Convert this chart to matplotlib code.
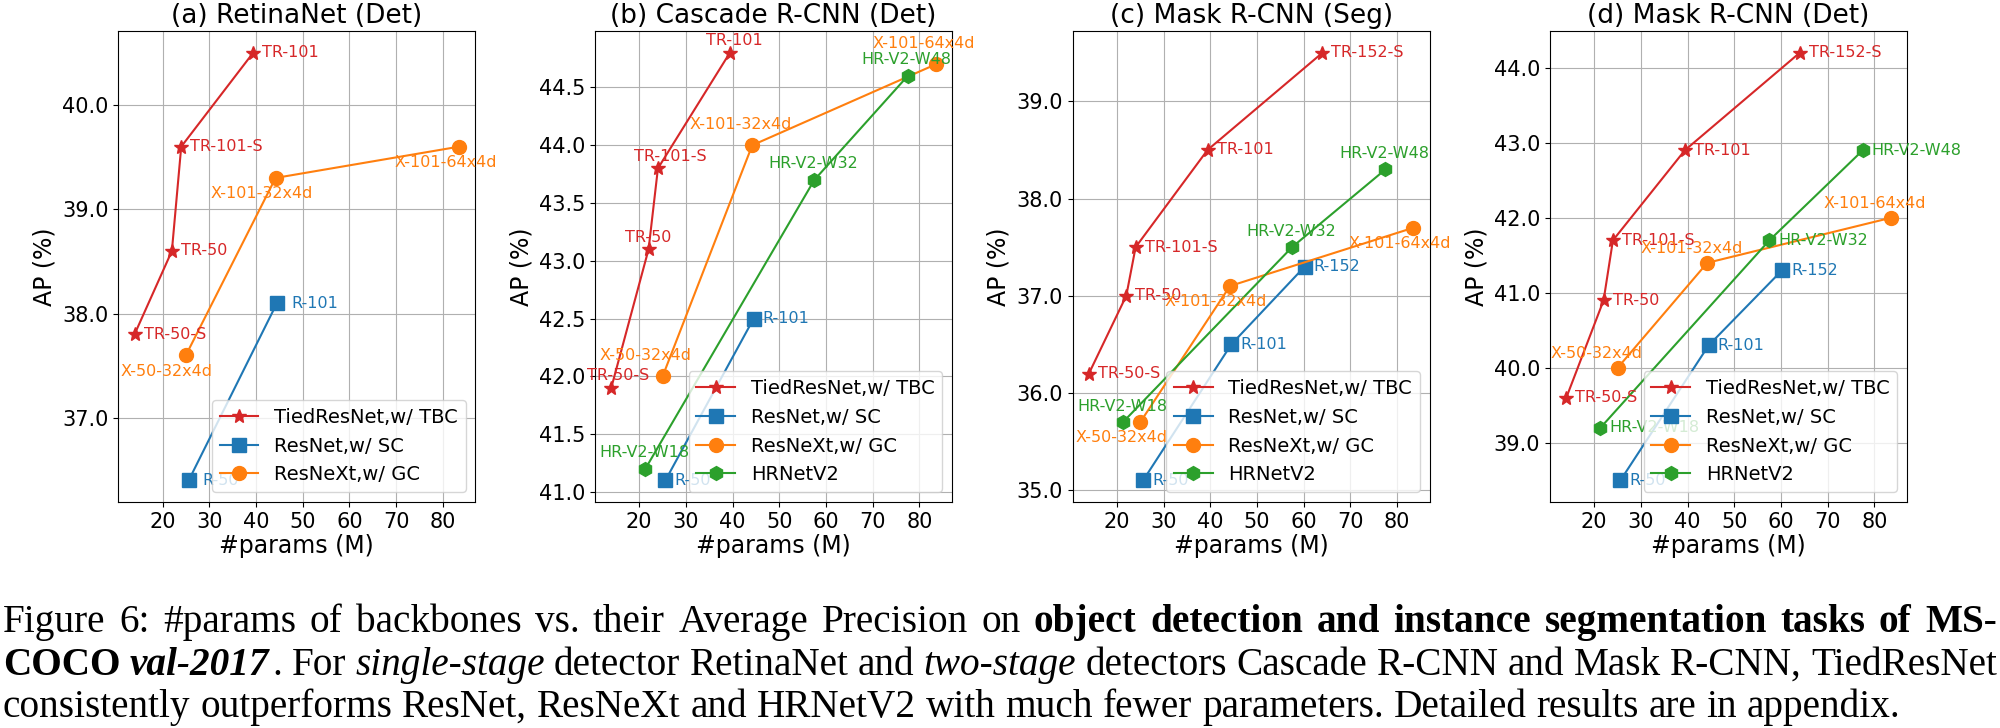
import matplotlib
matplotlib.use("Agg")
import matplotlib.pyplot as plt
from matplotlib.ticker import MultipleLocator, FormatStrFormatter

# ---------------- data ----------------
tr_names = ["TR-50-S", "TR-50", "TR-101-S", "TR-101", "TR-152-S"]
tr_params = [14.0, 22.0, 24.0, 39.4, 64.0]
r_names = ["R-50", "R-101", "R-152"]
r_params = [25.6, 44.5, 60.2]
x_names = ["X-50-32x4d", "X-101-32x4d", "X-101-64x4d"]
x_params = [25.0, 44.2, 83.5]
hr_names = ["HR-V2-W18", "HR-V2-W32", "HR-V2-W48"]
hr_params = [21.3, 57.5, 77.5]

retina_tr_ap = [37.8, 38.6, 39.6, 40.5]
retina_r_ap = [36.4, 38.1]
retina_x_ap = [37.6, 39.3, 39.6]

cascade_tr_ap = [41.9, 43.1, 43.8, 44.8]
cascade_r_ap = [41.1, 42.5]
cascade_x_ap = [42.0, 44.0, 44.7]
cascade_hr_ap = [41.2, 43.7, 44.6]

maskseg_tr_ap = [36.2, 37.0, 37.5, 38.5, 39.5]
maskseg_r_ap = [35.1, 36.5, 37.3]
maskseg_x_ap = [35.7, 37.1, 37.7]
maskseg_hr_ap = [35.7, 37.5, 38.3]

maskdet_tr_ap = [39.6, 40.9, 41.7, 42.9, 44.2]
maskdet_r_ap = [38.5, 40.3, 41.3]
maskdet_x_ap = [40.0, 41.4, 42.0]
maskdet_hr_ap = [39.2, 41.7, 42.9]

panel_titles = ["(a) RetinaNet (Det)", "(b) Cascade R-CNN (Det)",
                "(c) Mask R-CNN (Seg)", "(d) Mask R-CNN (Det)"]
legend_labels = ["TiedResNet,w/ TBC", "ResNet,w/ SC", "ResNeXt,w/ GC", "HRNetV2"]

# ---------------- styles ----------------
C_TR, C_R, C_X, C_HR = "#d62728", "#1f77b4", "#ff7f0e", "#2ca02c"
series_style = {
    "tr": dict(color=C_TR, marker="*"),
    "r": dict(color=C_R, marker="s"),
    "x": dict(color=C_X, marker="o"),
    "hr": dict(color=C_HR, marker="h"),
}
# label offsets in pixels (dx, dy) per panel per series
label_offsets = [
    {"tr": (9, 0), "r": (14, 0), "x": (-65, -16)},
    {"tr": (-24, 12), "r": (9, 0), "x": (-63, 21), "hr": (-46, 16)},
    {"tr": (9, 0), "r": (9, 0), "x": (-65, -15.5), "hr": (-46, 16)},
    {"tr": (9, 0), "r": (9, 0), "x": (-67, 14), "hr": (9, 0)},
]
y_steps = [1.0, 0.5, 1.0, 1.0]

panels = [
    [("tr", tr_params, retina_tr_ap, tr_names), ("r", r_params, retina_r_ap, r_names),
     ("x", x_params, retina_x_ap, x_names)],
    [("tr", tr_params, cascade_tr_ap, tr_names), ("r", r_params, cascade_r_ap, r_names),
     ("x", x_params, cascade_x_ap, x_names), ("hr", hr_params, cascade_hr_ap, hr_names)],
    [("tr", tr_params, maskseg_tr_ap, tr_names), ("r", r_params, maskseg_r_ap, r_names),
     ("x", x_params, maskseg_x_ap, x_names), ("hr", hr_params, maskseg_hr_ap, hr_names)],
    [("tr", tr_params, maskdet_tr_ap, tr_names), ("r", r_params, maskdet_r_ap, r_names),
     ("x", x_params, maskdet_x_ap, x_names), ("hr", hr_params, maskdet_hr_ap, hr_names)],
]
legend_of = {"tr": 0, "r": 1, "x": 2, "hr": 3}

W, H = 2000, 728
fig = plt.figure(figsize=(W / 100, H / 100), dpi=100)

ax_lefts = [118.3, 595.0, 1072.7, 1550.0]
ax_w, ax_top, ax_bot = 357.0, 31.4, 501.8

for i, series in enumerate(panels):
    ax = fig.add_axes([ax_lefts[i] / W, 1 - ax_bot / H, ax_w / W, (ax_bot - ax_top) / H])
    for key, px, ap, names in series:
        n = len(ap)
        st = series_style[key]
        ax.plot(px[:n], ap, color=st["color"], marker=st["marker"], markersize=10,
                linewidth=1.5, label=legend_labels[legend_of[key]])
        dx, dy = label_offsets[i][key]
        for xv, yv, nm in zip(px[:n], ap, names[:n]):
            ax.annotate(nm, (xv, yv), xytext=(dx, dy), textcoords="offset pixels",
                        ha="left", va="center", color=st["color"], fontsize=11.5)
    ax.grid(True, color="#b0b0b0", linewidth=0.8)
    ax.set_axisbelow(True)
    ax.xaxis.set_major_locator(MultipleLocator(10))
    ax.yaxis.set_major_locator(MultipleLocator(y_steps[i]))
    ax.yaxis.set_major_formatter(FormatStrFormatter("%.1f"))
    ax.tick_params(labelsize=15)
    ax.set_title(panel_titles[i], fontsize=19)
    ax.set_xlabel("#params (M)", fontsize=17, labelpad=2)
    ax.set_ylabel("AP (%)", fontsize=17)
    ax.legend(loc="lower right", fontsize=14)

# ---------------- caption ----------------
N, B, I, BI = "n", "b", "i", "bi"
caption_lines = [
    [[("Figure", N)], [("6:", N)], [("#params", N)], [("of", N)], [("backbones", N)], [("vs.", N)],
     [("their", N)], [("Average", N)], [("Precision", N)], [("on", N)],
     [("object", B)], [("detection", B)], [("and", B)], [("instance", B)],
     [("segmentation", B)], [("tasks", B)], [("of", B)], [("MS-", B)]],
    [[("COCO", B)], [("val-2017", BI), (".", N)], [("For", N)], [("single-stage", I)],
     [("detector", N)], [("RetinaNet", N)], [("and", N)], [("two-stage", I)],
     [("detectors", N)], [("Cascade", N)], [("R-CNN", N)], [("and", N)], [("Mask", N)],
     [("R-CNN,", N)], [("TiedResNet", N)]],
    [[(w, N)] for w in "consistently outperforms ResNet, ResNeXt and HRNetV2 with much fewer parameters. Detailed results are in appendix.".split()],
]
cap_baselines = [632, 675, 717]
cap_justify = [True, True, False]
cap_x0, cap_x1 = 3.0, 1997.0
cap_size = 28.3

def fprops(style):
    return dict(family="Liberation Serif", fontsize=cap_size,
                fontweight="bold" if "b" in style else "normal",
                fontstyle="italic" if "i" in style else "normal")

renderer = fig.canvas.get_renderer()

def measure(txt, style):
    t = fig.text(0, 0, txt, **fprops(style))
    w = t.get_window_extent(renderer).width
    t.remove()
    return w

space_w = measure("a a", N) - measure("aa", N)

for words, yb, just in zip(caption_lines, cap_baselines, cap_justify):
    seg_w = [[measure(t, s) for t, s in wd] for wd in words]
    word_w = [sum(ws) + 3 * (len(ws) - 1) for ws in seg_w]
    if just:
        gap = (cap_x1 - cap_x0 - sum(word_w)) / (len(words) - 1)
    else:
        gap = space_w
    x = cap_x0
    for wd, ws in zip(words, seg_w):
        for (t, s), w in zip(wd, ws):
            fig.text(x / W, 1 - yb / H, t, ha="left", va="baseline", color="black", **fprops(s))
            x += w + 3
        x += gap - 3

fig.savefig("out.png", dpi=100)
